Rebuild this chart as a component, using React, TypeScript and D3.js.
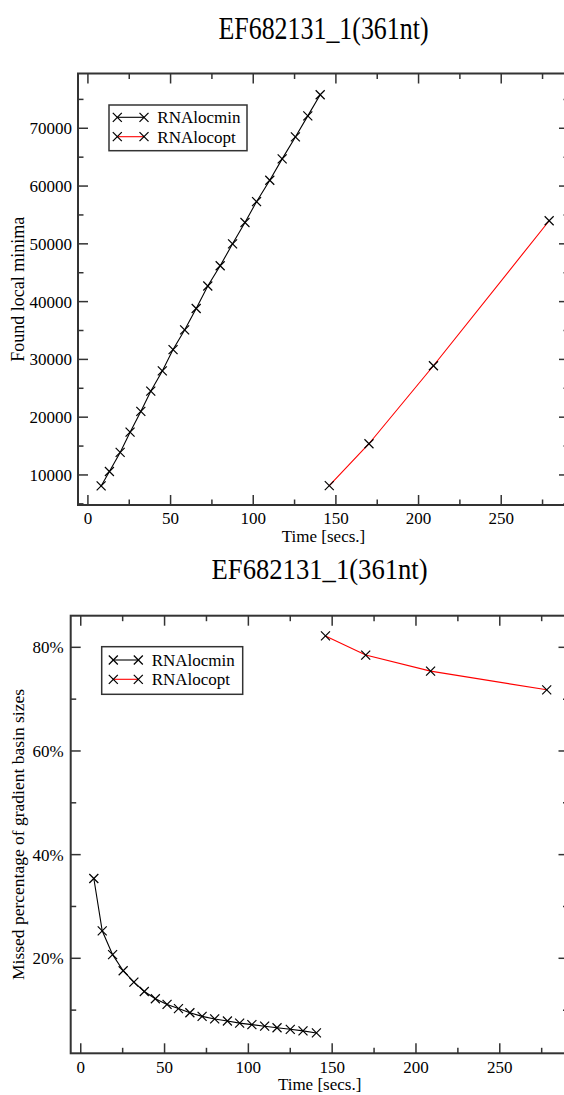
import React from "react";
import * as d3 from "d3";

const chartTitle = "EF682131_1(361nt)";
const xAxisLabel = "Time [secs.]";
const topYLabel = "Found local minima";
const bottomYLabel = "Missed percentage of gradient basin sizes";
const seriesNames = ["RNAlocmin", "RNAlocopt"];

// RNAlocmin (top chart)
const timesLocminTop = [8, 13, 19.5, 25.5, 32, 38, 45, 51.5, 58.5, 65.5, 72.5, 80, 87.5, 95, 102, 110, 117.5, 125.5, 133, 140.5];
const minimaLocmin = [8100, 10600, 13900, 17400, 21000, 24500, 28000, 31700, 35100, 38800, 42700, 46200, 50000, 53700, 57300, 61000, 64700, 68500, 72150, 75800];
// RNAlocopt (top chart)
const timesLocoptTop = [146, 170, 209, 279];
const minimaLocopt = [8150, 15400, 28900, 54000];

// bottom chart
const timesLocminBottom = [7.8, 12.8, 19, 25.3, 31.7, 37.9, 44.5, 51.5, 58.3, 65.1, 72.4, 79.9, 87.5, 94.8, 102.1, 109.7, 117.1, 125, 132.6, 140.6];
const missedLocmin = [35.4, 25.3, 20.7, 17.6, 15.4, 13.6, 12.2, 11.1, 10.3, 9.5, 8.8, 8.3, 7.9, 7.5, 7.2, 6.9, 6.6, 6.3, 6.0, 5.6];
const timesLocoptBottom = [146, 170, 208.7, 278];
const missedLocopt = [82.2, 78.5, 75.4, 71.8];

const xMajorTicks = [0, 50, 100, 150, 200, 250];
const xMinorTicks = [25, 75, 125, 175, 225, 275];
const topYMajorTicks = [10000, 20000, 30000, 40000, 50000, 60000, 70000];
const topYMinorTicks = [5000, 15000, 25000, 35000, 45000, 55000, 65000, 75000];
const bottomYMajorTicks = [20, 40, 60, 80];
const bottomYMinorTicks = [10, 30, 50, 70];

const FONT = "'Liberation Serif', 'Times New Roman', serif";
const FRAME = "#333";

type Series = { xs: number[]; ys: number[]; color: string };

function Cross({ x, y, s = 4.5 }: { x: number; y: number; s?: number }) {
  return (
    <g stroke="#000" strokeWidth={1.2}>
      <line x1={x - s} y1={y - s} x2={x + s} y2={y + s} />
      <line x1={x - s} y1={y + s} x2={x + s} y2={y - s} />
    </g>
  );
}

function Panel(props: {
  left: number; right: number; top: number; bottom: number;
  xDomain: [number, number]; yDomain: [number, number];
  yMajor: number[]; yMinor: number[]; yFmt: (v: number) => string;
  series: Series[];
  title: string; titleY: number; titleSize: number; titleLen: number;
  yLabel: string; yLabelSize: number;
  xLabelY: number; xTickY: number; yTickGap: number;
  legend: { x0: number; y0: number; x1: number; y1: number; m1: number; m2: number; tx: number; rows: number[] };
}) {
  const p = props;
  const x = d3.scaleLinear().domain(p.xDomain).range([p.left, p.right]);
  const y = d3.scaleLinear().domain(p.yDomain).range([p.bottom, p.top]);
  const line = d3.line<[number, number]>().x((d) => x(d[0])).y((d) => y(d[1]));
  const major = 10, minor = 5.5;
  const cx = (p.left + p.right) / 2;
  const cy = (p.top + p.bottom) / 2;
  return (
    <g fontFamily={FONT}>
      <text x={cx} y={p.titleY} textAnchor="middle" fontSize={p.titleSize} textLength={p.titleLen} lengthAdjust="spacingAndGlyphs" fill="#000">{p.title}</text>
      <g stroke={FRAME} strokeWidth={1.5}>
        {xMajorTicks.map((t) => (
          <g key={"xM" + t}>
            <line x1={x(t)} x2={x(t)} y1={p.bottom} y2={p.bottom - major} />
            <line x1={x(t)} x2={x(t)} y1={p.top} y2={p.top + major} />
          </g>
        ))}
        {xMinorTicks.map((t) => (
          <g key={"xm" + t}>
            <line x1={x(t)} x2={x(t)} y1={p.bottom} y2={p.bottom - minor} />
            <line x1={x(t)} x2={x(t)} y1={p.top} y2={p.top + minor} />
          </g>
        ))}
        {p.yMajor.map((t) => (
          <g key={"yM" + t}>
            <line x1={p.left} x2={p.left + major} y1={y(t)} y2={y(t)} />
            <line x1={p.right} x2={p.right - major} y1={y(t)} y2={y(t)} />
          </g>
        ))}
        {p.yMinor.map((t) => (
          <g key={"ym" + t}>
            <line x1={p.left} x2={p.left + minor} y1={y(t)} y2={y(t)} />
            <line x1={p.right} x2={p.right - minor} y1={y(t)} y2={y(t)} />
          </g>
        ))}
      </g>
      <rect x={p.left} y={p.top} width={p.right - p.left} height={p.bottom - p.top} fill="none" stroke={FRAME} strokeWidth={2} />
      {xMajorTicks.map((t) => (
        <text key={"xl" + t} x={x(t)} y={p.xTickY} textAnchor="middle" fontSize={17} fill="#000">{t}</text>
      ))}
      {p.yMajor.map((t) => (
        <text key={"yl" + t} x={p.left - p.yTickGap} y={y(t)} dy="0.35em" textAnchor="end" fontSize={17} fill="#000">{p.yFmt(t)}</text>
      ))}
      <text x={cx} y={p.xLabelY} textAnchor="middle" fontSize={17} fill="#000">{xAxisLabel}</text>
      <text transform={`translate(24,${cy}) rotate(-90)`} textAnchor="middle" fontSize={p.yLabelSize} fill="#000">{p.yLabel}</text>
      {p.series.map((s, i) => {
        const pts = s.xs.map((v, j) => [v, s.ys[j]] as [number, number]);
        return (
          <g key={"s" + i}>
            <path d={line(pts) || ""} fill="none" stroke={s.color} strokeWidth={1.1} />
            {pts.map((d, j) => <Cross key={j} x={x(d[0])} y={y(d[1])} />)}
          </g>
        );
      })}
      <rect x={p.legend.x0} y={p.legend.y0} width={p.legend.x1 - p.legend.x0} height={p.legend.y1 - p.legend.y0} fill="#fff" stroke={FRAME} strokeWidth={1.5} />
      {p.series.map((s, i) => {
        const ry = p.legend.rows[i];
        return (
          <g key={"lg" + i}>
            <line x1={p.legend.m1} x2={p.legend.m2} y1={ry} y2={ry} stroke={s.color} strokeWidth={1.1} />
            <Cross x={p.legend.m1} y={ry} />
            <Cross x={p.legend.m2} y={ry} />
            <text x={p.legend.tx} y={ry} dy="0.35em" fontSize={17} fill="#000">{seriesNames[i]}</text>
          </g>
        );
      })}
    </g>
  );
}

export default function App() {
  return (
    <svg width={564} height={1095} style={{ position: "absolute", left: 0, top: 0, background: "#fff" }}>
      <rect width={564} height={1095} fill="#fff" />
      <Panel
        left={78} right={569} top={73.5} bottom={505}
        xDomain={[-6, 291]} yDomain={[4800, 79480]}
        yMajor={topYMajorTicks} yMinor={topYMinorTicks} yFmt={(v) => String(v)}
        series={[
          { xs: timesLocminTop, ys: minimaLocmin, color: "#000" },
          { xs: timesLocoptTop, ys: minimaLocopt, color: "#ff0000" },
        ]}
        title={chartTitle} titleY={39} titleSize={32} titleLen={210}
        yLabel={topYLabel} yLabelSize={18}
        xLabelY={542} xTickY={524} yTickGap={6}
        legend={{ x0: 109, y0: 105, x1: 247, y1: 150.7, m1: 117.3, m2: 144, tx: 157.3, rows: [117.3, 136.7] }}
      />
      <Panel
        left={70.7} right={568.5} top={615.7} bottom={1053.3}
        xDomain={[-6, 291]} yDomain={[1.67, 86.1]}
        yMajor={bottomYMajorTicks} yMinor={bottomYMinorTicks} yFmt={(v) => v + "%"}
        series={[
          { xs: timesLocminBottom, ys: missedLocmin, color: "#000" },
          { xs: timesLocoptBottom, ys: missedLocopt, color: "#ff0000" },
        ]}
        title={chartTitle} titleY={578.5} titleSize={30} titleLen={216}
        yLabel={bottomYLabel} yLabelSize={17.5}
        xLabelY={1090} xTickY={1073} yTickGap={7}
        legend={{ x0: 101.7, y0: 646.7, x1: 242.7, y1: 694.3, m1: 113.3, m2: 138.3, tx: 151.7, rows: [660, 679.3] }}
      />
    </svg>
  );
}
